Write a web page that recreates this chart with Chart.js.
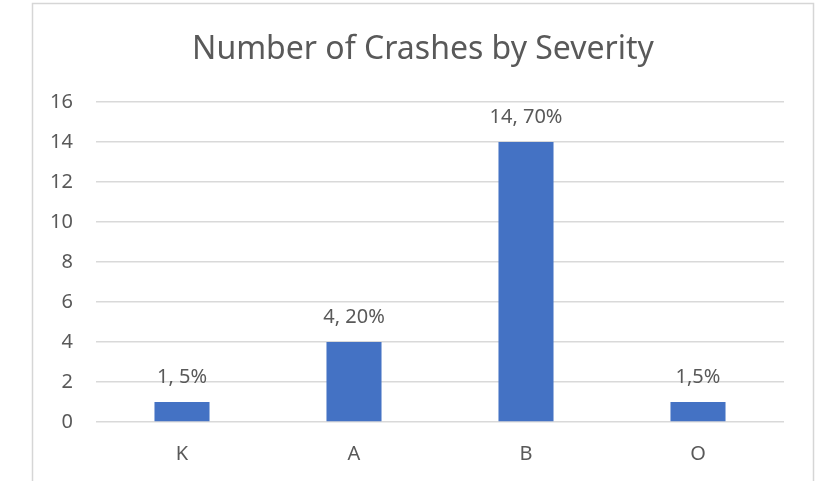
<!DOCTYPE html>
<html>
<head>
<meta charset="utf-8">
<script src="https://cdn.jsdelivr.net/npm/chart.js@4"></script>
<style>
  html, body { margin: 0; padding: 0; background: #ffffff; }
  #wrap { width: 831px; height: 481px; position: relative; }
</style>
</head>
<body>
<div id="wrap"><canvas id="c" width="831" height="481"></canvas></div>
<script>
const categories = ['K', 'A', 'B', 'O'];
const crashCounts = [1, 4, 14, 1];
const valueLabels = ['1, 5%', '4, 20%', '14, 70%', '1,5%'];
const yTicks = [0, 2, 4, 6, 8, 10, 12, 14, 16];
const chartTitle = 'Number of Crashes by Severity';

const TEXT = '#595959';
const GRID = '#d9d9d9';
const FONT = '"Noto Sans", "Open Sans", sans-serif';

// Light frame around the whole chart (open at the bottom edge) and the
// title centred on that frame
const frame = {
  id: 'frame',
  beforeDraw(chart) {
    const ctx = chart.ctx;
    ctx.save();
    ctx.strokeStyle = '#d6d6d6';
    ctx.lineWidth = 1.5;
    ctx.strokeRect(32.5, 3.5, 781, 520);
    ctx.fillStyle = TEXT;
    ctx.font = '32px ' + FONT;
    ctx.textAlign = 'center';
    ctx.textBaseline = 'alphabetic';
    ctx.fillText(chartTitle, 423, 59);
    ctx.restore();
  }
};

// Count / share labels above each bar
const barLabels = {
  id: 'barLabels',
  afterDatasetsDraw(chart) {
    const ctx = chart.ctx;
    const meta = chart.getDatasetMeta(0);
    ctx.save();
    ctx.fillStyle = TEXT;
    ctx.font = '20px ' + FONT;
    ctx.textAlign = 'center';
    ctx.textBaseline = 'alphabetic';
    meta.data.forEach((bar, i) => {
      ctx.fillText(valueLabels[i], bar.x, bar.y - 19);
    });
    ctx.restore();
  }
};

new Chart(document.getElementById('c'), {
  type: 'bar',
  data: {
    labels: categories,
    datasets: [{
      data: crashCounts,
      backgroundColor: '#4472c4',
      borderWidth: 0,
      barPercentage: 1,
      categoryPercentage: 0.32
    }]
  },
  options: {
    responsive: false,
    animation: false,
    layout: { padding: { left: 32, right: 47, top: 102, bottom: 0 } },
    plugins: {
      legend: { display: false },
      tooltip: { enabled: false },
      title: { display: false }
    },
    scales: {
      x: {
        grid: { display: false },
        border: { display: false },
        ticks: { color: TEXT, font: { family: FONT, size: 20 }, padding: 12 },
        afterFit(scale) { scale.height = 59; }
      },
      y: {
        min: 0,
        max: 16,
        afterBuildTicks(scale) { scale.ticks = yTicks.map(v => ({ value: v })); },
        grid: { color: GRID, lineWidth: 1.5, drawTicks: false },
        border: { display: false },
        ticks: { color: TEXT, font: { family: FONT, size: 20 }, padding: 23 },
        afterFit(scale) { scale.width = 64; }
      }
    }
  },
  plugins: [frame, barLabels]
});
</script>
</body>
</html>
